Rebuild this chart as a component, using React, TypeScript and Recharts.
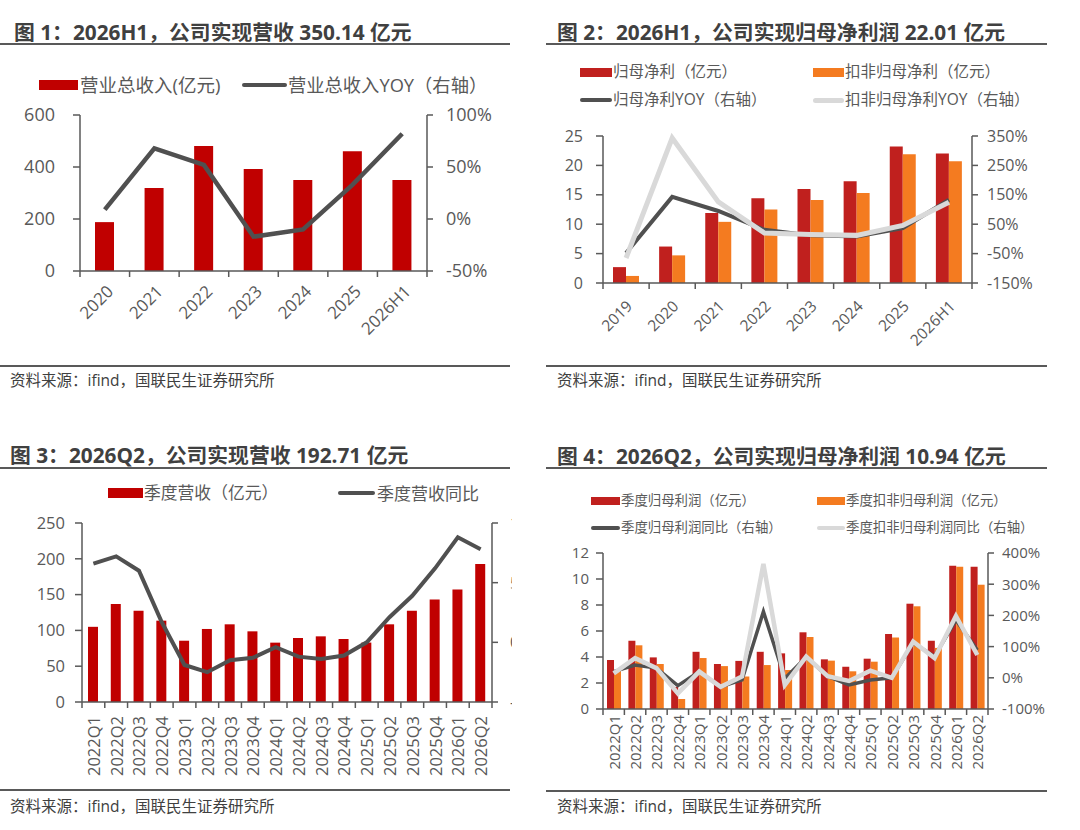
import React from "react";
import { ComposedChart, Bar, Line, XAxis, YAxis } from "recharts";

const FONT = "'Open Sans', 'Noto Sans CJK SC', sans-serif";
const AXIS = "#595959";
const TICK_TEXT = "#595959";
const TITLE = "#404040";
const RED1 = "#C00000";
const RED2 = "#C0201E";
const ORANGE = "#F47B20";
const DARK = "#505050";
const LIGHT = "#D9D9D9";

// 图1 年度营收
const yearsA = ["2020", "2021", "2022", "2023", "2024", "2025", "2026H1"];
const revenueA = [188, 319, 481, 392, 350, 461, 350.14];
const revenueYoyA = [9, 68, 52, -17, -10, 33, 82];

// 图2 年度归母净利
const yearsB = ["2019", "2020", "2021", "2022", "2023", "2024", "2025", "2026H1"];
const netProfitB = [2.7, 6.2, 11.9, 14.4, 16.0, 17.3, 23.2, 22.01];
const netProfitExB = [1.2, 4.7, 10.4, 12.5, 14.1, 15.3, 21.9, 20.7];
const netProfitYoyB = [-48, 143, 95, 31, 12, 8, 37, 133];
const netProfitExYoyB = [-65, 343, 126, 20, 15, 12, 46, 125];

// 图3 季度营收
const quarters = [
  "2022Q1", "2022Q2", "2022Q3", "2022Q4",
  "2023Q1", "2023Q2", "2023Q3", "2023Q4",
  "2024Q1", "2024Q2", "2024Q3", "2024Q4",
  "2025Q1", "2025Q2", "2025Q3", "2025Q4",
  "2026Q1", "2026Q2",
];
const revenueQ = [105, 137, 127.5, 113.6, 85.6, 102, 108.5, 98.7, 82.9, 89.4, 91.7, 88, 83, 108.5, 127.5, 143, 157, 192.71];
const revenueQYoy = [66, 72, 60, 17, -19, -25, -15, -13, -4, -12, -14, -11, 0, 21, 39, 62, 88, 78];

// 图4 季度归母净利
const netProfitQ = [3.77, 5.25, 3.97, 1.7, 4.4, 3.46, 3.7, 4.4, 4.28, 5.9, 3.82, 3.25, 3.87, 5.77, 8.1, 5.25, 11.02, 10.94];
const netProfitExQ = [3.0, 4.9, 3.46, 0.77, 3.92, 3.3, 2.5, 3.38, 3.0, 5.54, 3.72, 2.9, 3.64, 5.5, 7.9, 4.7, 10.95, 9.56];
const netProfitQYoy = [20, 41, 31, -25, 20, -29, -7, 212, -2, 66, 5, -23, -7, 0, 112, 68, 185, 89];
const netProfitExQYoy = [14, 63, 31, -50, 20, -29, 4, 365, -23, 68, 5, -10, 23, 0, 116, 63, 198, 73];

const dataA = yearsA.map((name, i) => ({ name, rev: revenueA[i], yoy: revenueYoyA[i] }));
const dataB = yearsB.map((name, i) => ({
  name,
  np: netProfitB[i],
  npEx: netProfitExB[i],
  yoy: netProfitYoyB[i],
  yoyEx: netProfitExYoyB[i],
}));
const dataC = quarters.map((name, i) => ({ name, rev: revenueQ[i], yoy: revenueQYoy[i] }));
const dataD = quarters.map((name, i) => ({
  name,
  np: netProfitQ[i],
  npEx: netProfitExQ[i],
  yoy: netProfitQYoy[i],
  yoyEx: netProfitExQYoy[i],
}));

const pct = (v: number) => `${v}%`;

// x tick: boundary tick marks + rotated label
function catTick(band: number, count: number, fontSize: number, angle: number, dx: number, dy: number) {
  return (props: any) => {
    const { x, y, payload, index } = props;
    const tx = x + dx;
    const ty = y + dy;
    return (
      <g>
        <line x1={x - band / 2} x2={x - band / 2} y1={y} y2={y + 6} stroke={AXIS} strokeWidth={1.5} />
        {index === count - 1 && (
          <line x1={x + band / 2} x2={x + band / 2} y1={y} y2={y + 6} stroke={AXIS} strokeWidth={1.5} />
        )}
        <text
          x={tx}
          y={ty}
          transform={`rotate(${angle} ${tx} ${ty})`}
          textAnchor="end"
          dominantBaseline="central"
          fill={TICK_TEXT}
          fontSize={fontSize}
          fontFamily={FONT}
        >
          {payload.value}
        </text>
      </g>
    );
  };
}

const Txt = ({ x, y, size, children, bold, color }: any) => (
  <div
    style={{
      position: "absolute",
      left: x,
      top: y,
      transform: "translateY(-50%)",
      fontSize: size,
      lineHeight: 1,
      fontWeight: bold ? 700 : 400,
      color: color || TICK_TEXT,
      fontFamily: FONT,
      whiteSpace: "nowrap",
    }}
  >
    {children}
  </div>
);

const Key = ({ x1, x2, y, h, color, round }: any) => (
  <div
    style={{
      position: "absolute",
      left: x1,
      top: y - h / 2,
      width: x2 - x1,
      height: h,
      background: color,
      borderRadius: round ? h / 2 : 0,
    }}
  />
);

const Rule = ({ x1, x2, y }: any) => (
  <div style={{ position: "absolute", left: x1, top: y - 1, width: x2 - x1, height: 1.5, background: AXIS }} />
);

const Box = ({ x, y, children }: any) => <div style={{ position: "absolute", left: x, top: y }}>{children}</div>;

const axisProps = { stroke: AXIS, strokeWidth: 1.5 };

const ChartA = () => {
  const n = yearsA.length;
  const band = (427 - 80) / n;
  return (
    <Box x={0} y={100}>
      <ComposedChart width={512} height={300} data={dataA} margin={{ top: 15, right: 0, bottom: 69, left: 0 }}>
        <XAxis
          dataKey="name"
          interval={0}
          height={60}
          tickSize={0}
          tickMargin={0}
          tickLine={false}
          axisLine={axisProps}
          tick={catTick(band, n, 17, -45, 5, 17)}
        />
        <YAxis
          yAxisId="l"
          width={80}
          domain={[0, 600]}
          ticks={[0, 200, 400, 600]}
          interval={0}
          tickSize={7}
          tickMargin={18}
          axisLine={axisProps}
          tickLine={axisProps}
          tick={{ fill: TICK_TEXT, fontSize: 18, fontFamily: FONT }}
        />
        <YAxis
          yAxisId="r"
          orientation="right"
          width={85}
          domain={[-50, 100]}
          ticks={[-50, 0, 50, 100]}
          interval={0}
          tickFormatter={pct}
          tickSize={6}
          tickMargin={13}
          axisLine={axisProps}
          tickLine={axisProps}
          tick={{ fill: TICK_TEXT, fontSize: 18, fontFamily: FONT }}
        />
        <Bar yAxisId="l" dataKey="rev" fill={RED1} barSize={19} isAnimationActive={false} />
        <Line
          yAxisId="r"
          dataKey="yoy"
          type="linear"
          stroke={DARK}
          strokeWidth={4.5}
          dot={false}
          activeDot={false}
          isAnimationActive={false}
        />
      </ComposedChart>
    </Box>
  );
};

const ChartB = () => {
  const n = yearsB.length;
  const band = (972 - 603) / n;
  return (
    <Box x={540} y={120}>
      <ComposedChart width={540} height={260} data={dataB} barGap={0} margin={{ top: 16, right: 0, bottom: 37, left: 0 }}>
        <XAxis
          dataKey="name"
          interval={0}
          height={60}
          tickSize={0}
          tickMargin={0}
          tickLine={false}
          axisLine={axisProps}
          tick={catTick(band, n, 15.5, -45, 3, 20)}
        />
        <YAxis
          yAxisId="l"
          width={63}
          domain={[0, 25]}
          ticks={[0, 5, 10, 15, 20, 25]}
          interval={0}
          tickSize={7}
          tickMargin={13}
          axisLine={axisProps}
          tickLine={axisProps}
          tick={{ fill: TICK_TEXT, fontSize: 16, fontFamily: FONT }}
        />
        <YAxis
          yAxisId="r"
          orientation="right"
          width={108}
          domain={[-150, 350]}
          ticks={[-150, -50, 50, 150, 250, 350]}
          interval={0}
          tickFormatter={pct}
          tickSize={6}
          tickMargin={9}
          axisLine={axisProps}
          tickLine={axisProps}
          tick={{ fill: TICK_TEXT, fontSize: 16, fontFamily: FONT }}
        />
        <Bar yAxisId="l" dataKey="np" fill={RED2} barSize={13} isAnimationActive={false} />
        <Bar yAxisId="l" dataKey="npEx" fill={ORANGE} barSize={13} isAnimationActive={false} />
        <Line yAxisId="r" dataKey="yoy" type="linear" stroke={DARK} strokeWidth={4} dot={false} activeDot={false} isAnimationActive={false} />
        <Line yAxisId="r" dataKey="yoyEx" type="linear" stroke={LIGHT} strokeWidth={5} dot={false} activeDot={false} isAnimationActive={false} />
      </ComposedChart>
    </Box>
  );
};

const ChartC = () => {
  const n = quarters.length;
  const band = (492 - 82) / n;
  return (
    <Box x={0} y={500}>
      <ComposedChart width={540} height={300} data={dataC} margin={{ top: 23, right: 0, bottom: 18, left: 0 }}>
        <XAxis
          dataKey="name"
          interval={0}
          height={80}
          tickSize={0}
          tickMargin={0}
          tickLine={false}
          axisLine={axisProps}
          tick={catTick(band, n, 16.5, -90, 0, 14)}
        />
        <YAxis
          yAxisId="l"
          width={82}
          domain={[0, 250]}
          ticks={[0, 50, 100, 150, 200, 250]}
          interval={0}
          tickSize={7}
          tickMargin={10}
          axisLine={axisProps}
          tickLine={axisProps}
          tick={{ fill: TICK_TEXT, fontSize: 16.5, fontFamily: FONT }}
        />
        <YAxis
          yAxisId="r"
          orientation="right"
          width={48}
          domain={[-50, 100]}
          ticks={[-50, 0, 50, 100]}
          interval={0}
          tickFormatter={pct}
          tickSize={6}
          tickMargin={12}
          axisLine={axisProps}
          tickLine={axisProps}
          tick={{ fill: TICK_TEXT, fontSize: 16.5, fontFamily: FONT }}
        />
        <Bar yAxisId="l" dataKey="rev" fill={RED1} barSize={10} isAnimationActive={false} />
        <Line yAxisId="r" dataKey="yoy" type="linear" stroke={DARK} strokeWidth={4} dot={false} activeDot={false} isAnimationActive={false} />
      </ComposedChart>
    </Box>
  );
};

const ChartD = () => {
  const n = quarters.length;
  const band = (988 - 603) / n;
  return (
    <Box x={540} y={540}>
      <ComposedChart width={540} height={260} data={dataD} barGap={0} margin={{ top: 13, right: 0, bottom: 11, left: 0 }}>
        <XAxis
          dataKey="name"
          interval={0}
          height={80}
          tickSize={0}
          tickMargin={0}
          tickLine={false}
          axisLine={axisProps}
          tick={catTick(band, n, 15, -90, 0, 6)}
        />
        <YAxis
          yAxisId="l"
          width={63}
          domain={[0, 12]}
          ticks={[0, 2, 4, 6, 8, 10, 12]}
          interval={0}
          tickSize={7}
          tickMargin={7}
          axisLine={axisProps}
          tickLine={axisProps}
          tick={{ fill: TICK_TEXT, fontSize: 15, fontFamily: FONT }}
        />
        <YAxis
          yAxisId="r"
          orientation="right"
          width={92}
          domain={[-100, 400]}
          ticks={[-100, 0, 100, 200, 300, 400]}
          interval={0}
          tickFormatter={pct}
          tickSize={6}
          tickMargin={8}
          axisLine={axisProps}
          tickLine={axisProps}
          tick={{ fill: TICK_TEXT, fontSize: 15, fontFamily: FONT }}
        />
        <Bar yAxisId="l" dataKey="np" fill={RED2} barSize={7} isAnimationActive={false} />
        <Bar yAxisId="l" dataKey="npEx" fill={ORANGE} barSize={7} isAnimationActive={false} />
        <Line yAxisId="r" dataKey="yoy" type="linear" stroke={DARK} strokeWidth={3.5} dot={false} activeDot={false} isAnimationActive={false} />
        <Line yAxisId="r" dataKey="yoyEx" type="linear" stroke={LIGHT} strokeWidth={4.5} dot={false} activeDot={false} isAnimationActive={false} />
      </ComposedChart>
    </Box>
  );
};

const SOURCE = "资料来源：ifind，国联民生证券研究所";

export default function App() {
  return (
    <div style={{ position: "absolute", left: 0, top: 0, width: 1080, height: 830, background: "#fff", overflow: "hidden" }}>
      {/* 图1 */}
      <div style={{ position: "absolute", left: 0, top: 0, width: 512, height: 415, overflow: "hidden" }}>
        <Txt x={14} y={32} size={20.8} bold color={TITLE}>图 1：2026H1，公司实现营收 350.14 亿元</Txt>
        <Rule x1={0} x2={510} y={44} />
        <Key x1={39} x2={78} y={85} h={10} color={RED1} />
        <Txt x={80} y={85} size={18.5}>营业总收入(亿元)</Txt>
        <Key x1={242} x2={287} y={85} h={4.5} color={DARK} round />
        <Txt x={288} y={85} size={18.3}>营业总收入YOY（右轴）</Txt>
        <ChartA />
        <Rule x1={0} x2={510} y={366} />
        <Txt x={10} y={381} size={15.5} color={TITLE}>{SOURCE}</Txt>
      </div>

      {/* 图2 */}
      <div style={{ position: "absolute", left: 0, top: 0, width: 1080, height: 415 }}>
        <Txt x={557} y={32} size={20.8} bold color={TITLE}>图 2：2026H1，公司实现归母净利润 22.01 亿元</Txt>
        <Rule x1={546} x2={1047} y={44} />
        <Key x1={580} x2={612} y={72} h={9} color={RED2} />
        <Txt x={613} y={72} size={15.5}>归母净利（亿元）</Txt>
        <Key x1={813} x2={844} y={72} h={9} color={ORANGE} />
        <Txt x={845} y={72} size={15.5}>扣非归母净利（亿元）</Txt>
        <Key x1={580} x2={612} y={100} h={4} color={DARK} round />
        <Txt x={613} y={100} size={15.5}>归母净利YOY（右轴）</Txt>
        <Key x1={813} x2={844} y={100} h={5} color={LIGHT} round />
        <Txt x={845} y={100} size={15.5}>扣非归母净利YOY（右轴）</Txt>
        <ChartB />
        <Rule x1={546} x2={1047} y={366} />
        <Txt x={557} y={381} size={15.5} color={TITLE}>{SOURCE}</Txt>
      </div>

      {/* 图3 */}
      <div style={{ position: "absolute", left: 0, top: 0, width: 512, height: 830, overflow: "hidden" }}>
        <Txt x={10} y={455} size={20.8} bold color={TITLE}>图 3：2026Q2，公司实现营收 192.71 亿元</Txt>
        <Rule x1={0} x2={510} y={468} />
        <Key x1={108} x2={143} y={493} h={10} color={RED1} />
        <Txt x={144} y={493} size={16.8}>季度营收（亿元）</Txt>
        <Key x1={338} x2={375} y={493} h={4.5} color={DARK} round />
        <Txt x={377} y={493} size={17}>季度营收同比</Txt>
        <ChartC />
        <Rule x1={0} x2={510} y={790} />
        <Txt x={10} y={807} size={15.5} color={TITLE}>{SOURCE}</Txt>
      </div>

      {/* 图4 */}
      <div style={{ position: "absolute", left: 0, top: 0, width: 1080, height: 830 }}>
        <Txt x={557} y={456} size={20.8} bold color={TITLE}>图 4：2026Q2，公司实现归母净利润 10.94 亿元</Txt>
        <Rule x1={546} x2={1047} y={468} />
        <Key x1={591} x2={620} y={501} h={8} color={RED2} />
        <Txt x={621} y={501} size={13.4}>季度归母利润（亿元）</Txt>
        <Key x1={817} x2={845} y={501} h={8} color={ORANGE} />
        <Txt x={846} y={501} size={13.4}>季度扣非归母利润（亿元）</Txt>
        <Key x1={591} x2={620} y={528} h={4} color={DARK} round />
        <Txt x={621} y={528} size={13.4}>季度归母利润同比（右轴）</Txt>
        <Key x1={817} x2={845} y={528} h={4.5} color={LIGHT} round />
        <Txt x={846} y={528} size={13.4}>季度扣非归母利润同比（右轴）</Txt>
        <ChartD />
        <Rule x1={546} x2={1047} y={791} />
        <Txt x={557} y={807} size={15.5} color={TITLE}>{SOURCE}</Txt>
      </div>
    </div>
  );
}
